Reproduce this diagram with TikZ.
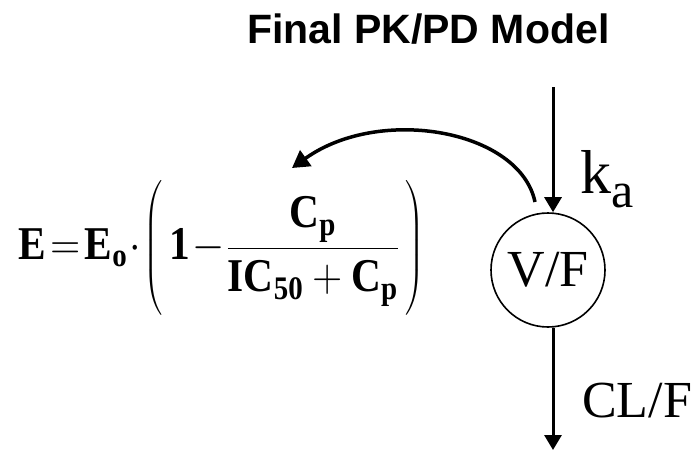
\documentclass[tikz,border=0pt]{standalone}
\usepackage{fix-cm}
\usepackage{amsmath}
\usepackage{fontspec}
\setmainfont{Liberation Serif}
\newfontfamily\titlefont{Liberation Sans}
\usetikzlibrary{arrows.meta,positioning}

\begin{document}
\begin{tikzpicture}[x=1pt, y=-1pt,
  %% styles
  flow/.style={-{Triangle[length=15pt,width=17pt]}, line width=3pt},
  effarr/.style={-{Triangle[length=17pt,width=19pt]}, line width=3.5pt},
  cmpt/.style={circle, draw, line width=1.6pt, minimum size=114pt,
               inner sep=0pt, font=\fontsize{52}{56}\selectfont},
  lbl/.style={font=\fontsize{52}{56}\selectfont, inner sep=0pt},
  ttl/.style={font=\titlefont\bfseries\fontsize{41}{46}\selectfont, inner sep=0pt},
]
\useasboundingbox (0,0) rectangle (692,451);

%% ------ title ----------------------------------------------------------
\node[ttl, anchor=base west] (title) at (247,43) {Final PK/PD Model};

%% ------ compartment + rates ---------------------------------------------
\node[cmpt] (vf) at (548,270) {V/F};
\coordinate (dose) at (553,87);
\coordinate (elim) at (553,450);

\node[lbl, anchor=base west] (ka) at (580,193)
  {\fontsize{62}{66}\selectfont k\raisebox{-14pt}{\fontsize{50}{54}\selectfont a}};
\node[lbl, anchor=base west] (cl) at (582,417) {CL/F};

%% ------ effect model ----------------------------------------------------
\node[inner sep=0pt, anchor=west, xscale=0.88, transform shape] (eqn) at (18,248)
  {\fontsize{47}{52}\selectfont
   $\mathbf{E}\!=\!\mathbf{E}_{\mathbf{o}}\!\cdot\!
    \left(\rule[-1.2em]{0pt}{2.9em}\,\mathbf{1}\!-\!
    \dfrac{\mathbf{C}_{\mathbf{p}}}{\mathbf{IC}_{\mathbf{50}}+\mathbf{C}_{\mathbf{p}}}\,\right)$};
\coordinate (efsrc) at (535,202);
\coordinate (eftgt) at (292,168);

%% ------ arrows ----------------------------------------------------------
\draw[flow] (dose) -- (dose |- vf.north);
\draw[flow] (vf.south -| elim) -- (elim);
\draw[effarr] (efsrc) .. controls (520,130) and (380,105) .. (eftgt);

\end{tikzpicture}
\end{document}
